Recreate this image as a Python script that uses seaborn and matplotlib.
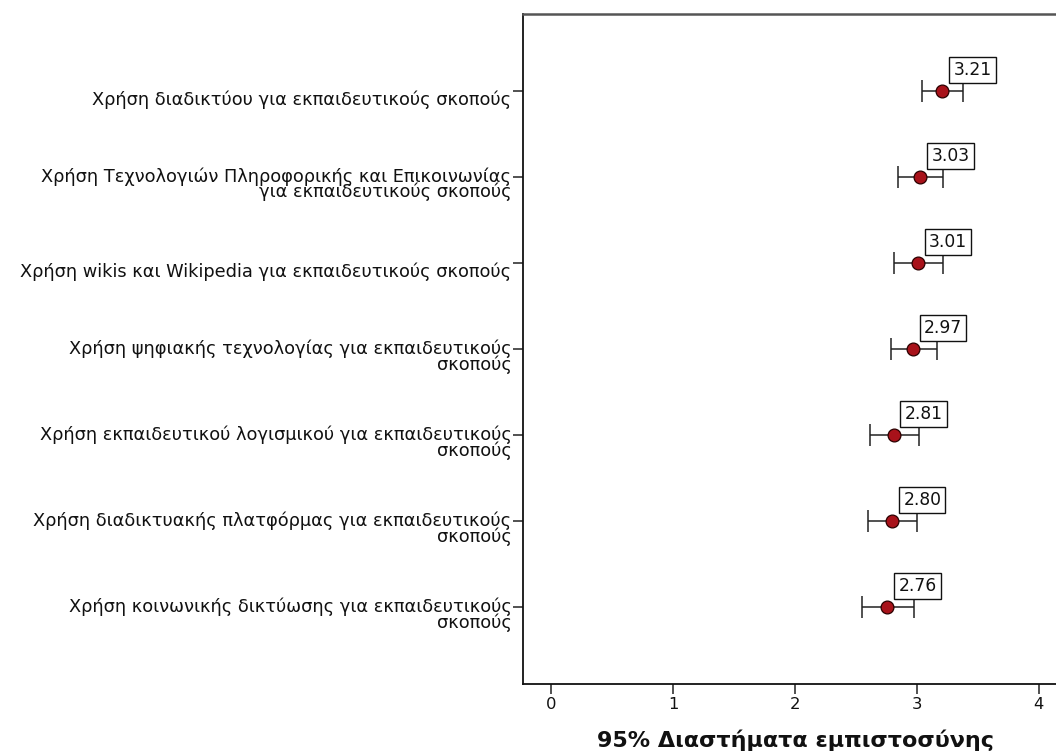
import matplotlib
matplotlib.use("Agg")
import matplotlib.pyplot as plt
import matplotlib.transforms as mtransforms
import seaborn as sns
import pandas as pd

categories = [
    "Χρήση διαδικτύου για εκπαιδευτικούς σκοπούς",
    "Χρήση Τεχνολογιών Πληροφορικής και Επικοινωνίας\nγια εκπαιδευτικούς σκοπούς",
    "Χρήση wikis και Wikipedia για εκπαιδευτικούς σκοπούς",
    "Χρήση ψηφιακής τεχνολογίας για εκπαιδευτικούς\nσκοπούς",
    "Χρήση εκπαιδευτικού λογισμικού για εκπαιδευτικούς\nσκοπούς",
    "Χρήση διαδικτυακής πλατφόρμας για εκπαιδευτικούς\nσκοπούς",
    "Χρήση κοινωνικής δικτύωσης για εκπαιδευτικούς\nσκοπούς",
]
means = [3.21, 3.03, 3.01, 2.97, 2.81, 2.80, 2.76]
ci_low = [3.04, 2.85, 2.81, 2.79, 2.62, 2.60, 2.55]
ci_high = [3.38, 3.22, 3.22, 3.17, 3.02, 3.00, 2.98]
mean_labels = ["3.21", "3.03", "3.01", "2.97", "2.81", "2.80", "2.76"]
x_ticks = [0, 1, 2, 3, 4]
x_label = "95% Διαστήματα εμπιστοσύνης"

sns.set_theme(style="white")
plt.rcParams["font.family"] = ["DejaVu Sans"]

df = pd.DataFrame({"cat": categories, "mean": means, "lo": ci_low, "hi": ci_high,
                   "lab": mean_labels})

fig = plt.figure(figsize=(10.56, 7.51), dpi=100)
W, H = 1056, 751
ax_left, ax_right, ax_top, ax_bottom = 522.5, 1069, 14, 683.5
ax = fig.add_axes([ax_left / W, (H - ax_bottom) / H, (ax_right - ax_left) / W, (ax_bottom - ax_top) / H])

ypos = list(range(len(categories)))
ax.errorbar(df["mean"], ypos,
            xerr=[df["mean"] - df["lo"], df["hi"] - df["mean"]],
            fmt="none", ecolor="#222222", elinewidth=1.1, capsize=7.8, capthick=1.1, zorder=2)
sns.scatterplot(x=df["mean"], y=ypos, ax=ax, color="#a8121a", edgecolor="#2a0000",
                linewidth=0.9, s=85, zorder=3, legend=False)

for i, row in df.iterrows():
    ax.annotate(row["lab"], xy=(row["mean"], i), xytext=(11, 12), textcoords="offset pixels",
                ha="left", va="bottom", fontsize=12.3, color="#111111",
                bbox=dict(boxstyle="square,pad=0.24", fc="white", ec="#111111", lw=1.0),
                zorder=4)

ax.set_xlim(-0.235, 4.25)
ax.set_ylim(6.885, -0.895)
ax.set_xticks(x_ticks)
ax.set_xticklabels([str(t) for t in x_ticks], fontsize=11.8)
ax.set_yticks(ypos)
ax.set_yticklabels(categories, fontsize=12.8, linespacing=0.82)
ax.set_ylabel("")
ax.set_xlabel(x_label, fontsize=16, fontweight="bold", color="#111111", labelpad=12)

ax.tick_params(axis="x", bottom=True, direction="out", length=7, width=1.1, color="#222222",
               pad=3, labelcolor="#111111")
ax.tick_params(axis="y", left=True, direction="out", length=7, width=1.1, color="#222222",
               pad=1, labelcolor="#111111")

for lab in ax.get_yticklabels():
    txt = lab.get_text()
    lab.set_multialignment("right")
    lab.set_va("top")
    if "\n" in txt:
        off = mtransforms.ScaledTranslation(0, 10 / 100, fig.dpi_scale_trans)
    else:
        off = mtransforms.ScaledTranslation(0, 1 / 100, fig.dpi_scale_trans)
    lab.set_transform(lab.get_transform() + off)

for side in ["left", "bottom", "top", "right"]:
    ax.spines[side].set_color("#111111")
    ax.spines[side].set_linewidth(1.3)
ax.spines["top"].set_color("#555555")
ax.spines["top"].set_linewidth(1.8)

fig.savefig("out.png", dpi=100)
